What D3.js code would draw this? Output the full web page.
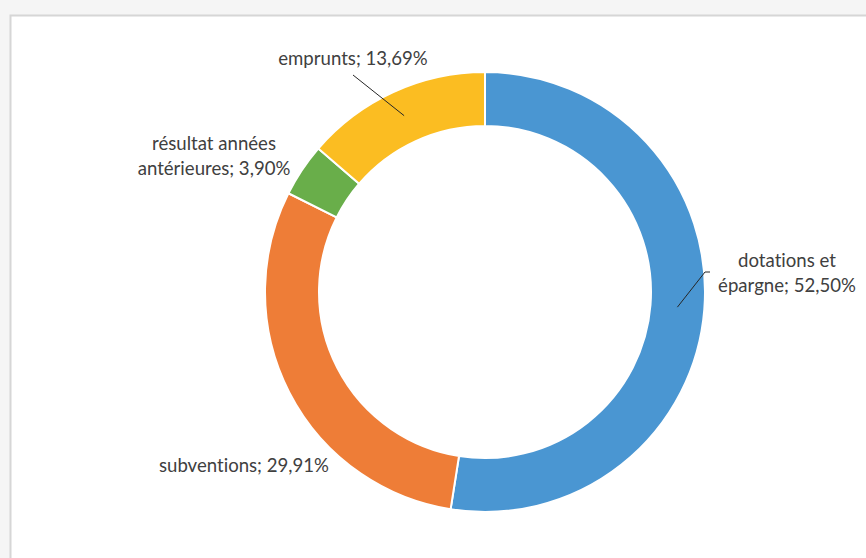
<!DOCTYPE html>
<html>
<head>
<meta charset="utf-8">
<script src="https://cdn.jsdelivr.net/npm/d3@7"></script>
<style>
  html, body { margin: 0; padding: 0; background: #f5f5f5; }
  svg { display: block; }
  .lbl { font-family: Lato, "Open Sans", sans-serif; font-size: 18.6px; fill: #404040;
         font-variant-ligatures: none; }
</style>
</head>
<body>
<div id="chart"></div>
<script>
// parts of the donut, clockwise from 12 o'clock
var categories = ["dotations et épargne", "subventions", "résultat années antérieures", "emprunts"];
var shares = [52.50, 29.91, 3.90, 13.69];
var colors = ["#4a96d2", "#ee7d37", "#69ae4a", "#fbbd22"];
// label text lines per slice (as shown in the chart)
var labelLines = [
  ["dotations et", "épargne; 52,50%"],
  ["subventions; 29,91%"],
  ["résultat années", "antérieures; 3,90%"],
  ["emprunts; 13,69%"]
];

var width = 866, height = 558;
var cx = 485, cy = 292, outerR = 220, innerR = 166;

var svg = d3.select("#chart").append("svg")
  .attr("width", width)
  .attr("height", height);

// chart frame
svg.append("rect")
  .attr("x", 10.5).attr("y", 15.5)
  .attr("width", width).attr("height", height)
  .style("fill", "#ffffff")
  .style("stroke", "#d6d6d6")
  .style("stroke-width", 2);

var g = svg.append("g")
  .attr("transform", "translate(" + cx + "," + cy + ")");

var pie = d3.pie().sort(null).value(function(d) { return d; });
var arcs = pie(shares);
var arc = d3.arc().innerRadius(innerR).outerRadius(outerR);

g.selectAll("path.slice")
  .data(arcs)
  .enter().append("path")
  .attr("class", "slice")
  .attr("d", arc)
  .style("fill", function(d, i) { return colors[i]; })
  .style("stroke", "#ffffff")
  .style("stroke-width", 2);

// label placement (relative to centre) - set by eye from the reference
var labelPos = [
  {x: 302, y: -25},
  {x: -241, y: 180},
  {x: -271, y: -142},
  {x: -132, y: -227}
];
var lineH = 24.5;

labelLines.forEach(function(lines, i) {
  var p = labelPos[i];
  var t = g.append("text")
    .attr("class", "lbl")
    .attr("text-anchor", "middle");
  lines.forEach(function(s, k) {
    t.append("tspan")
      .attr("x", p.x)
      .attr("y", p.y + k * lineH)
      .text(s);
  });
});

// leader lines: from the label to the middle of its slice
var leaders = [
  {slice: 0, pts: [[225, -20], [220, -20]], r: 193},
  {slice: 3, pts: [[-132, -217]], r: 194}
];
leaders.forEach(function(l) {
  var d = arcs[l.slice];
  var a = (d.startAngle + d.endAngle) / 2;
  var end = [Math.sin(a) * l.r, -Math.cos(a) * l.r];
  g.append("path")
    .attr("d", d3.line()(l.pts.concat([end])))
    .style("fill", "none")
    .style("stroke", "#262626")
    .style("stroke-width", 1);
});
</script>
</body>
</html>
